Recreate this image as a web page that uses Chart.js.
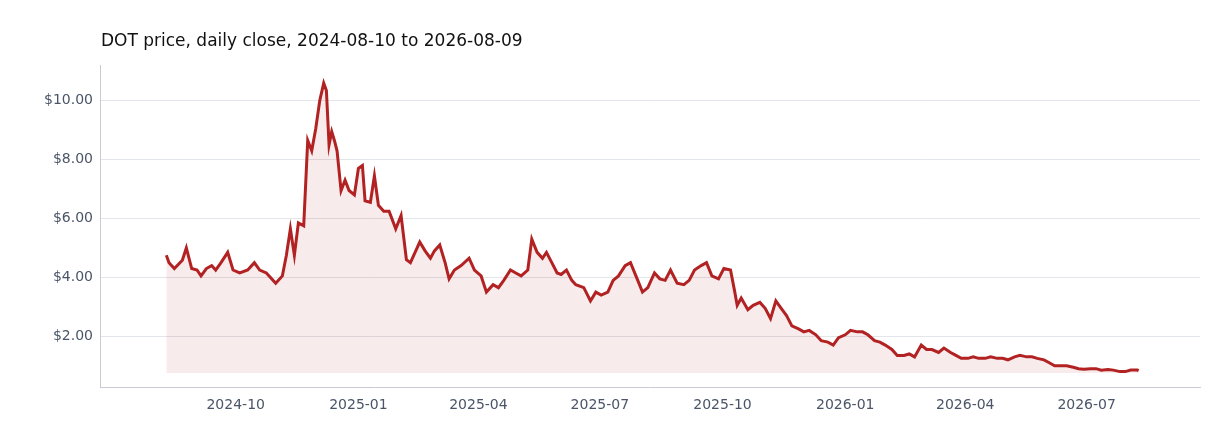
<!DOCTYPE html>
<html><head><meta charset="utf-8">
<script src="https://cdn.jsdelivr.net/npm/chart.js@4"></script>
<style>html,body{margin:0;padding:0;background:#fff}#w{width:1232px;height:448px}</style>
</head><body><div id="w"><canvas id="c"></canvas></div>
<script>
const startDate = "2024-08-10";
const dayIndex = [0,2,6,12,15,19,23,26,30,34,37,41,46,50,55,61,66,70,75,82,87,90,93,96,99,103,106,109,112,115,118,120,122,124,126,128,131,134,137,141,144,147,149,153,156,159,163,167,172,176,180,183,187,190,194,198,201,205,209,212,216,221,227,231,236,240,245,249,253,258,262,266,271,274,278,282,285,289,293,296,300,304,307,313,318,322,326,331,335,339,344,348,353,357,361,366,370,374,378,383,388,392,396,401,405,409,414,418,423,426,428,431,436,440,445,449,453,457,461,465,469,474,478,482,487,491,496,500,504,509,513,518,522,526,531,535,539,544,548,553,557,561,566,570,574,579,583,588,592,596,601,605,609,614,618,623,627,631,636,640,645,649,653,658,662,666,671,675,680,684,688,693,697,701,706,710,715,719,723,728,729];
const closePrice = [4.75,4.5,4.3,4.58,5.0,4.3,4.25,4.05,4.3,4.4,4.25,4.5,4.85,4.25,4.15,4.25,4.5,4.25,4.15,3.8,4.05,4.75,5.65,4.75,5.85,5.75,8.65,8.3,9.05,10.0,10.6,10.35,8.5,8.95,8.65,8.3,6.95,7.3,6.95,6.8,7.7,7.8,6.6,6.55,7.45,6.45,6.25,6.25,5.65,6.1,4.6,4.5,4.9,5.2,4.9,4.65,4.9,5.1,4.5,3.95,4.25,4.4,4.65,4.25,4.05,3.5,3.75,3.65,3.9,4.25,4.15,4.05,4.25,5.3,4.85,4.65,4.85,4.5,4.15,4.1,4.25,3.9,3.75,3.65,3.2,3.5,3.4,3.5,3.9,4.05,4.4,4.5,3.95,3.5,3.65,4.15,3.95,3.9,4.25,3.8,3.75,3.9,4.25,4.4,4.5,4.05,3.95,4.3,4.25,3.55,3.05,3.3,2.9,3.05,3.15,2.95,2.6,3.2,2.95,2.7,2.35,2.25,2.15,2.2,2.05,1.85,1.8,1.7,1.95,2.05,2.2,2.15,2.15,2.05,1.85,1.8,1.7,1.55,1.35,1.35,1.4,1.3,1.7,1.55,1.55,1.45,1.6,1.45,1.35,1.25,1.25,1.3,1.25,1.25,1.3,1.25,1.25,1.2,1.3,1.35,1.3,1.3,1.25,1.2,1.1,1.0,1.0,1.0,0.95,0.9,0.88,0.9,0.9,0.85,0.87,0.85,0.8,0.8,0.85,0.85,0.83];
const tickLabels = ["2024-10","2025-01","2025-04","2025-07","2025-10","2026-01","2026-04","2026-07"];
const DAY = 86400000;
const t0 = Date.parse(startDate + "T00:00:00Z");
const pts = dayIndex.map((d,i)=>({x:t0+d*DAY,y:closePrice[i]}));
const tickTs = tickLabels.map(s=>Date.parse(s+"-01T00:00:00Z"));
const fmt = v => { const d=new Date(v); return d.getUTCFullYear()+"-"+String(d.getUTCMonth()+1).padStart(2,"0"); };
Chart.defaults.font.family = "DejaVu Sans";
new Chart(document.getElementById("c"),{
  type:"line",
  data:{datasets:[{data:pts,borderColor:"#b22222",borderWidth:3,pointRadius:0,tension:0,
    fill:{value:0.75},backgroundColor:"rgba(178,34,34,0.09)"}]},
  options:{responsive:true,maintainAspectRatio:false,animation:false,
    layout:{padding:{left:36,right:32,top:10,bottom:30}},
    plugins:{legend:{display:false},tooltip:{enabled:false},
      title:{display:true,fullSize:false,text:"DOT price, daily close, 2024-08-10 to 2026-08-09",align:"start",
        color:"#111",font:{size:17,weight:"normal"},padding:{top:21,bottom:14}}},
    scales:{
      x:{type:"linear",min:t0-49*DAY,max:t0+775*DAY,
        afterBuildTicks:ax=>{ax.ticks=tickTs.map(v=>({value:v}));},
        ticks:{callback:v=>fmt(v),color:"#4a5568",font:{size:14},maxRotation:0,padding:4},
        grid:{display:false,drawTicks:true,tickLength:6,tickColor:"#c8ccd2"},
        border:{color:"#c8ccd2"}},
      y:{min:0.27,max:11.2,
        afterBuildTicks:ax=>{ax.ticks=[2,4,6,8,10].map(v=>({value:v}));},
        ticks:{callback:v=>"$"+v.toFixed(2),color:"#4a5568",font:{size:14},padding:8},
        grid:{color:"#e2e5ea",drawTicks:false},
        border:{color:"#c8ccd2"}}
    }}
});
</script></body></html>
